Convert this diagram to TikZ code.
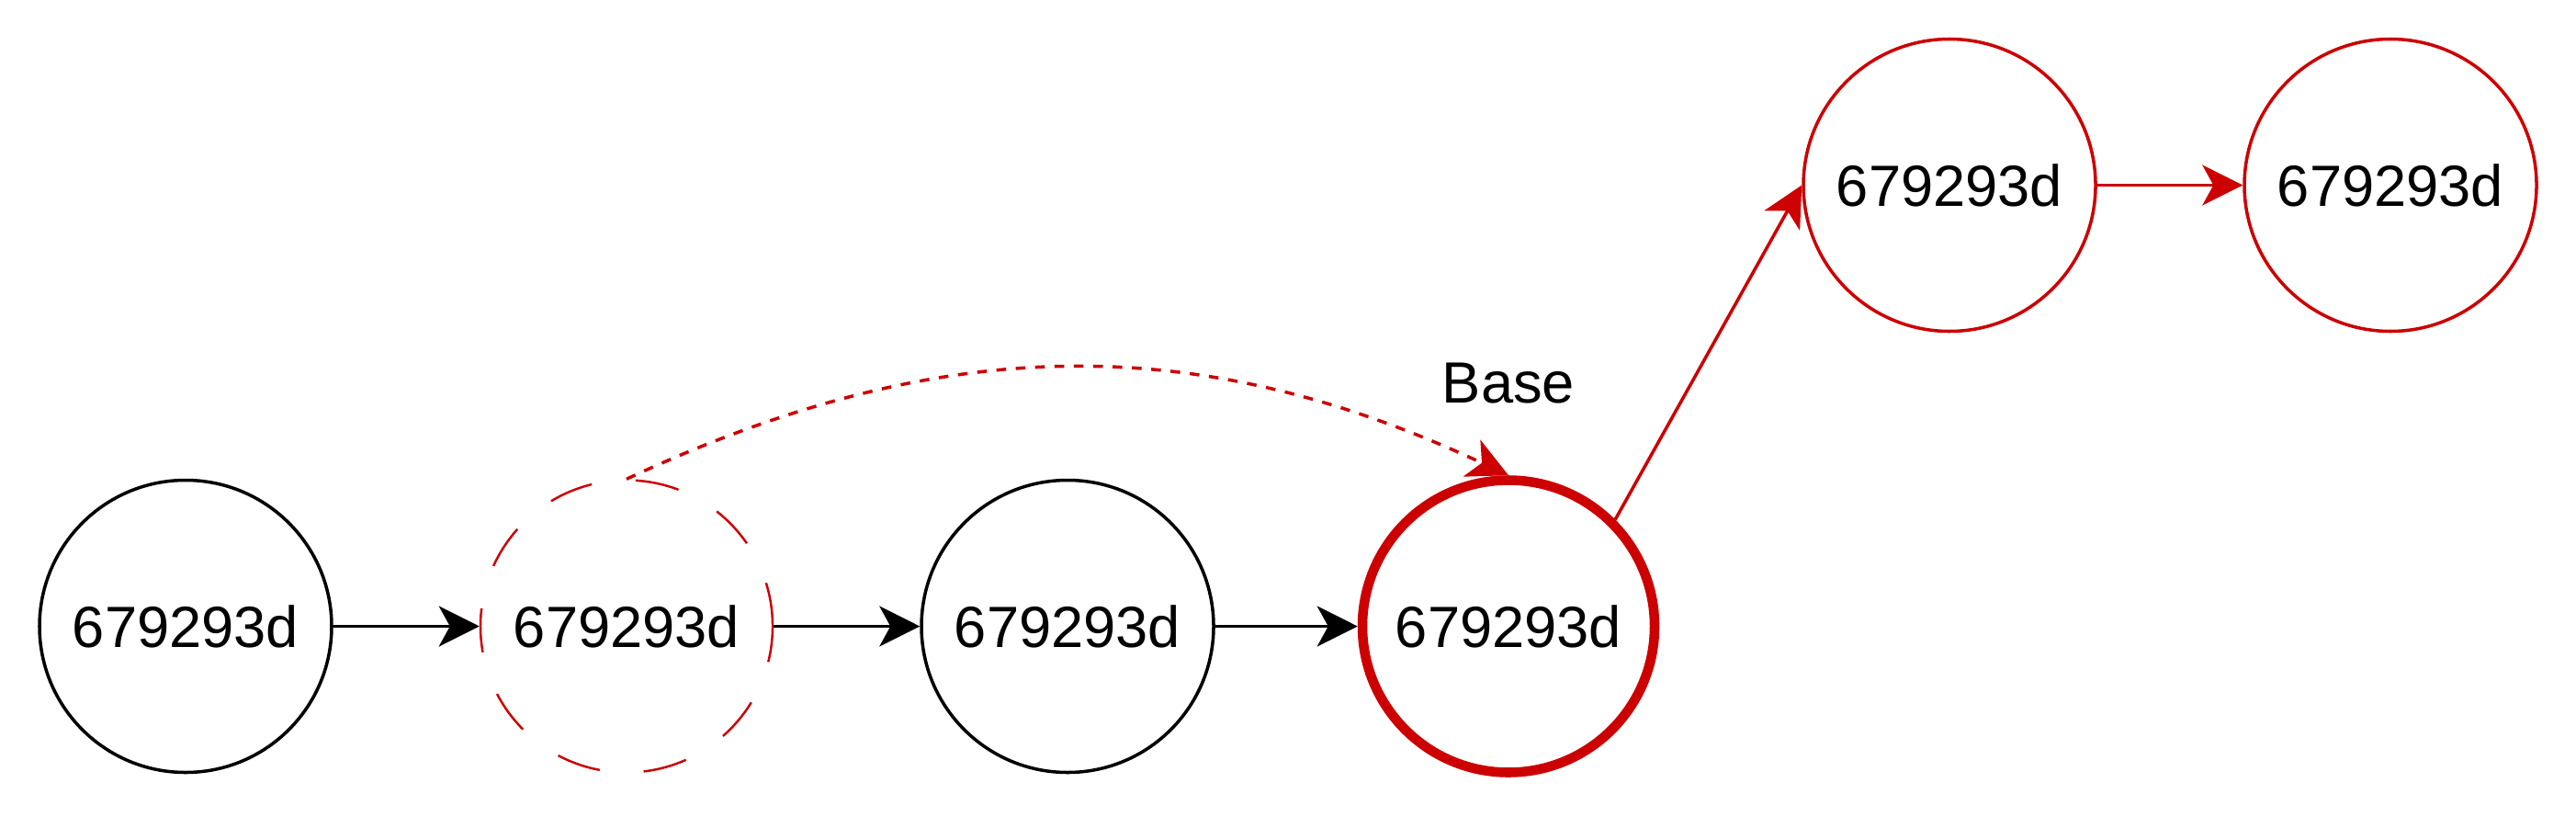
\documentclass[tikz,border=0pt]{standalone}
\usepackage{fontspec}
\setmainfont{Liberation Sans}
\usepackage{tikz}
\usetikzlibrary{arrows.meta}
\usetikzlibrary{shapes}
\definecolor{gitred}{HTML}{CC0000}

\begin{document}
\begin{tikzpicture}[>={Stealth[length=0.44cm, width=0.44cm, inset=0.12cm]}, node distance=4.8cm, line width=1pt,
  font=\fontsize{18}{21}\selectfont,
  commit/.style={circle, draw, minimum size=3.18cm, inner sep=0pt},
  redcommit/.style={commit, gitred, text=black}]

\useasboundingbox (0,0) rectangle (28.04,8.88);

% Define nodes
\node (c1) [commit] at (2.02,2.065) {679293d};
\node (c2) [redcommit, line width=0.7pt, dash pattern=on 0.48cm off 0.48cm, right of=c1] {679293d};
\node (c3) [commit, right of=c2] {679293d};
\node (base) [redcommit, line width=3pt, right of=c3] {679293d};

\node (t1) [redcommit, above of=base, xshift=4.8cm] {679293d};
\node (t2) [redcommit, right of=t1] {679293d};

\node (baselbl) [above of=base, node distance=2.64cm] {Base};

% Draw edges for the old history
\draw[->] (c1) -- (c2);
\draw[->] (c2) -- (c3);
\draw[->] (c3) -- (base);

% Draw edges for the new history
\draw[->, gitred] (base.45) -- (t1.west);
\draw[->, gitred] (t1) -- (t2);
\draw[->, gitred, dashed] (c2.north) to[out=25, in=155] (base.north);

\end{tikzpicture}
\end{document}
